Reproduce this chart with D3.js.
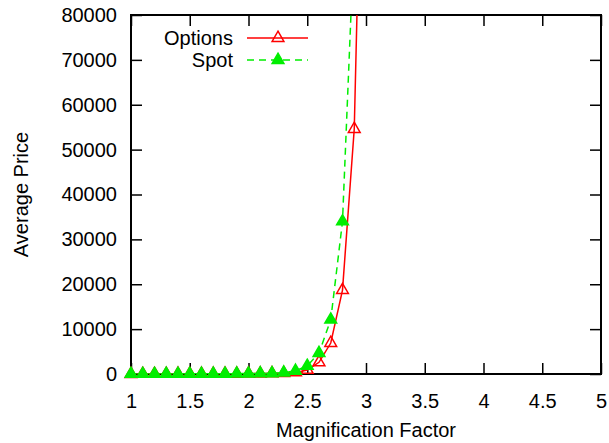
<!DOCTYPE html>
<html>
<head>
<meta charset="utf-8">
<script src="https://cdn.jsdelivr.net/npm/d3@7"></script>
<style>
	body { margin:0; background:#fff; }
	text { font-family:"Liberation Sans", Arial, Helvetica, sans-serif; fill:#000; }
</style>
</head>
<body>
<div id="chart"></div>
<script>
var width = 609;
var height = 443;
var margin = {top:15, right:8, bottom:69, left:131};

// magnification factor on x
var factor = [1.0,1.1,1.2,1.3,1.4,1.5,1.6,1.7,1.8,1.9,2.0,2.1,2.2,2.3,2.4,2.5,2.6,2.7,2.8,2.9,3.0];
var options_price = [5,8,10,15,20,25,30,40,50,60,80,100,130,180,350,900,2600,6900,18700,54600,165000];
var spot_price = [8,10,15,20,25,30,40,50,60,80,100,130,170,300,700,1800,4650,12100,34000,98000,280000];

var x_ticks = [1,1.5,2,2.5,3,3.5,4,4.5,5];
var x_tick_labels = ["1","1.5","2","2.5","3","3.5","4","4.5","5"];
var y_ticks = [0,10000,20000,30000,40000,50000,60000,70000,80000];
var y_tick_labels = ["0","10000","20000","30000","40000","50000","60000","70000","80000"];

var series = [
	{name:"Options", values:options_price, color:"#ff0000", dash:null, filled:false},
	{name:"Spot", values:spot_price, color:"#00ee00", dash:"7,5", filled:true}
];

var plot_w = width - margin.left - margin.right;
var plot_h = height - margin.top - margin.bottom;

var svg = d3.select("#chart").append("svg")
			.attr("width",width)
			.attr("height",height);

var x = d3.scaleLinear().domain([1,5]).range([0,plot_w]);
var y = d3.scaleLinear().domain([0,80000]).range([plot_h,0]);

var g = svg.append("g")
		   .attr("transform","translate(" + margin.left + "," + margin.top + ")");

svg.append("defs").append("clipPath")
   .attr("id","plot_clip")
   .append("rect")
   .attr("width",plot_w)
   .attr("height",plot_h);

// axes: ticks inside, mirrored on top and right
var tick_len = 11;

function tidy(sel){
	sel.select(".domain").remove();
	sel.selectAll("line").attr("stroke","#000").attr("stroke-width",1.5);
	sel.selectAll("text").style("font-size","20px");
}

g.append("g")
 .attr("transform","translate(0," + plot_h + ")")
 .call(d3.axisBottom(x).tickValues(x_ticks).tickSize(-tick_len).tickPadding(20)
 		.tickFormat(function(d,i){ return x_tick_labels[i]; }))
 .call(tidy);

g.append("g")
 .call(d3.axisTop(x).tickValues(x_ticks).tickSize(-tick_len).tickFormat(""))
 .call(tidy);

g.append("g")
 .call(d3.axisLeft(y).tickValues(y_ticks).tickSize(-tick_len).tickPadding(14)
 		.tickFormat(function(d,i){ return y_tick_labels[i]; }))
 .call(tidy);

g.append("g")
 .attr("transform","translate(" + plot_w + ",0)")
 .call(d3.axisRight(y).tickValues(y_ticks).tickSize(-tick_len).tickFormat(""))
 .call(tidy);

g.append("rect")
 .attr("width",plot_w)
 .attr("height",plot_h)
 .attr("fill","none")
 .attr("stroke","#000")
 .attr("stroke-width",2);

var line = d3.line()
			 .x(function(d){ return x(d[0]); })
			 .y(function(d){ return y(d[1]); });

var tri = d3.symbol().type(d3.symbolTriangle).size(60);

series.forEach(function(s){
	var pts = factor.map(function(f,i){ return [f, s.values[i]]; });

	g.append("path")
	 .datum(pts)
	 .attr("clip-path","url(#plot_clip)")
	 .attr("d",line)
	 .attr("fill","none")
	 .attr("stroke",s.color)
	 .attr("stroke-width",1.5)
	 .attr("stroke-dasharray",s.dash);

	g.selectAll(".pt_" + s.name)
	 .data(pts.filter(function(d){ return d[1] <= 80000; }))
	 .enter()
	 .append("path")
	 .attr("class","pt_" + s.name)
	 .attr("transform",function(d){ return "translate(" + x(d[0]) + "," + y(d[1]) + ")"; })
	 .attr("d",tri)
	 .attr("fill",s.filled ? s.color : "none")
	 .attr("stroke",s.color)
	 .attr("stroke-width",1.5);
});

// legend
var legend = svg.append("g");
series.forEach(function(s,i){
	var ly = 38 + i*22;
	legend.append("text")
		  .attr("x",233)
		  .attr("y",ly)
		  .attr("dy","0.35em")
		  .attr("text-anchor","end")
		  .style("font-size","20px")
		  .text(s.name);
	legend.append("line")
		  .attr("x1",247).attr("x2",308)
		  .attr("y1",ly).attr("y2",ly)
		  .attr("stroke",s.color)
		  .attr("stroke-width",1.5)
		  .attr("stroke-dasharray",s.dash);
	legend.append("path")
		  .attr("transform","translate(278," + ly + ")")
		  .attr("d",tri)
		  .attr("fill",s.filled ? s.color : "none")
		  .attr("stroke",s.color)
		  .attr("stroke-width",1.5);
});

svg.append("text")
   .attr("x",margin.left + plot_w/2)
   .attr("y",437)
   .attr("text-anchor","middle")
   .style("font-size","20px")
   .text("Magnification Factor");

svg.append("text")
   .attr("transform","translate(28," + (margin.top + plot_h/2) + ") rotate(-90)")
   .attr("text-anchor","middle")
   .style("font-size","20px")
   .text("Average Price");
</script>
</body>
</html>
